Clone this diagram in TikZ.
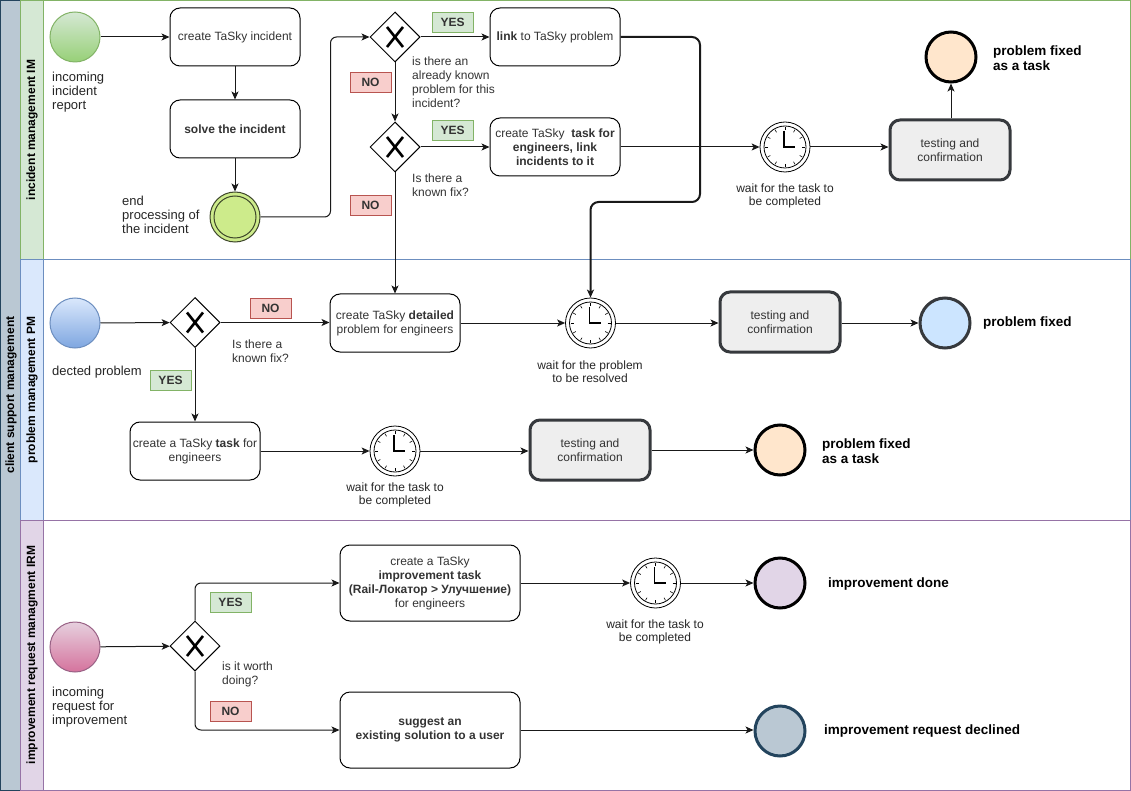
\documentclass[tikz,border=0pt]{standalone}
\usepackage{fontspec}
\setmainfont{Liberation Sans}
\usetikzlibrary{shapes.geometric,arrows.meta,calc}
\definecolor{poolfill}{HTML}{BAC8D3}
\definecolor{poolline}{HTML}{23445D}
\definecolor{gfill}{HTML}{D5E8D4}
\definecolor{gline}{HTML}{82B366}
\definecolor{gdark}{HTML}{97D077}
\definecolor{bfill}{HTML}{DAE8FC}
\definecolor{bline}{HTML}{6C8EBF}
\definecolor{bdark}{HTML}{7EA6E0}
\definecolor{pfill}{HTML}{E1D5E7}
\definecolor{pline}{HTML}{9673A6}
\definecolor{pinklight}{HTML}{E6D0DE}
\definecolor{pinkdark}{HTML}{D5739D}
\definecolor{pinkline}{HTML}{996185}
\definecolor{rfill}{HTML}{F8CECC}
\definecolor{rline}{HTML}{B85450}
\definecolor{orfill}{HTML}{FFE6CC}
\definecolor{ltblue}{HTML}{CCE5FF}
\definecolor{dkline}{HTML}{36393D}
\definecolor{limefill}{HTML}{CDEB8B}
\definecolor{greyfill}{HTML}{EEEEEE}
\definecolor{txtgray}{HTML}{333333}
\newcommand{\clockdeco}[1]{%
  \draw[black, line width=0.8pt] (#1.center) circle[radius=21pt];
  \foreach \a in {0,30,...,330} \draw[black, line width=0.6pt] ($(#1.center)+(\a:17)$) -- ($(#1.center)+(\a:20)$);
  \draw[black, line width=1.1pt] ($(#1.center)+(-1,-16)$) -- ($(#1.center)+(-1,0)$) -- ($(#1.center)+(10,0)$);
}
\newcommand{\gwx}[1]{%
  \draw[black, line width=2.6pt] ($(#1.center)+(-8,-10)$) -- ($(#1.center)+(8,10)$) ($(#1.center)+(8,-10)$) -- ($(#1.center)+(-8,10)$);
}
\begin{document}
\begin{tikzpicture}[x=1pt,y=-1pt,
  conn/.style={draw=black!90, line width=1pt, -{Stealth[length=8pt,width=7pt,inset=2pt]}},
  taskbox/.style={draw=black, line width=1pt, rounded corners=10pt, fill=white, minimum width=130pt, minimum height=58pt, align=center, inner sep=2pt, text=txtgray, font=\fontsize{12}{14}\selectfont},
  testbox/.style={draw=dkline, line width=3pt, rounded corners=10pt, fill=greyfill, minimum width=120pt, minimum height=60pt, align=center, text=txtgray, font=\fontsize{12}{14}\selectfont},
  gateway/.style={diamond, draw=black, line width=1pt, fill=white, minimum width=50pt, minimum height=50pt, inner sep=0pt},
  ev/.style={circle, minimum size=50pt, inner sep=0pt},
  endev/.style={circle, minimum size=50pt, inner sep=0pt, line width=3pt},
  timer/.style={circle, draw=black, line width=0.8pt, fill=white, minimum size=50pt, inner sep=0pt},
  yesbox/.style={draw=gline, fill=gfill, minimum width=41pt, minimum height=20pt, inner sep=0pt, font=\bfseries\fontsize{12}{14}\selectfont, text=txtgray},
  nobox/.style={draw=rline, fill=rfill, minimum width=41pt, minimum height=20pt, inner sep=0pt, font=\bfseries\fontsize{12}{14}\selectfont, text=txtgray},
  lbl/.style={inner sep=0pt, align=left, anchor=west, text=black!85, font=\fontsize{13}{14}\selectfont},
  qlbl/.style={inner sep=0pt, align=left, anchor=west, text=txtgray, font=\fontsize{12}{14}\selectfont},
  wlbl/.style={inner sep=0pt, align=center, text=black!85, font=\fontsize{12}{13.5}\selectfont},
  blbl/.style={inner sep=0pt, align=left, anchor=west, text=black, font=\bfseries\fontsize{13.5}{15.5}\selectfont},
  lanetitle/.style={rotate=90, inner sep=0pt, font=\bfseries\fontsize{12}{14}\selectfont}
]
\useasboundingbox (0,0) rectangle (1131,791);
% pool and lanes
\fill[white] (0,0) rectangle (1131,791);
\draw[draw=poolline, fill=poolfill, line width=1pt] (0.5,0.5) rectangle (20,790);
\draw[draw=gline, fill=gfill, line width=1pt] (20,0.5) rectangle (43,260);
\draw[draw=gline, line width=1pt] (20,0.5) rectangle (1130,260);
\draw[draw=bline, fill=bfill, line width=1pt] (20,260) rectangle (43,520);
\draw[draw=bline, line width=1pt] (20,260) rectangle (1130,520);
\draw[draw=pline, fill=pfill, line width=1pt] (20,520) rectangle (43,790);
\draw[draw=pline, line width=1pt] (20,520) rectangle (1130,790);
\node[lanetitle] (tpool) at (11,395) {client support management};
\node[lanetitle] (tim) at (32,130) {incident management IM};
\node[lanetitle] (tpm) at (32,390) {problem management PM};
\node[lanetitle] (tirm) at (32,655) {improvement request managment IRM};

% ---------- lane 1: incident management
\node[ev, draw=gline, line width=1pt, top color=gfill, bottom color=gdark] (s1) at (75,37) {};
\node[lbl] (s1l) at (52,92) {incoming\\incident\\report};
\node[taskbox] (cti) at (235,37) {create TaSky incident};
\node[taskbox] (sol) at (235,129) {\textbf{solve the incident}};
\node[circle, draw=black!70!limefill, line width=1pt, fill=limefill, minimum size=50pt, inner sep=0pt] (e1) at (235,217) {};
\draw[black!70!limefill, line width=1pt] (e1.center) circle[radius=21pt];
\node[lbl] (e1l) at (122,215) {end\\processing of\\the incident};
\node[gateway] (g1) at (395,37) {};
\gwx{g1}
\node[yesbox] (y1) at (452.5,22.5) {YES};
\node[nobox] (n1) at (370.5,82) {NO};
\node[qlbl] (q1) at (412,82) {is there an\\already known\\problem for this\\incident?};
\node[taskbox] (lnk) at (555,37) {\textbf{link} to TaSky problem};
\node[gateway] (g2) at (395,147) {};
\gwx{g2}
\node[yesbox] (y2) at (452.5,130.5) {YES};
\node[nobox] (n2) at (370.5,205) {NO};
\node[qlbl] (q2) at (412,185) {Is there a\\known fix?};
\node[taskbox] (ctt) at (555,147) {create TaSky\ \ \textbf{task for}\\\textbf{engineers, link}\\\textbf{incidents to it}};
\node[timer] (t1) at (785,147) {};
\clockdeco{t1}
\node[wlbl] (t1l) at (785,196) {wait for the task to\\be completed};
\node[testbox] (ts1) at (950,150) {testing and\\confirmation};
\node[endev, draw=black, fill=orfill] (f1) at (951,57) {};
\node[blbl] (f1l) at (993,58) {problem fixed\\as a task};

% ---------- lane 2: problem management
\node[ev, draw=bline, line width=1pt, top color=bfill, bottom color=bdark] (s2) at (75,323) {};
\node[lbl] (s2l) at (52,372) {dected problem};
\node[gateway] (g3) at (195,322.5) {};
\gwx{g3}
\node[nobox] (n3) at (270.5,308) {NO};
\node[qlbl] (q3) at (232,351) {Is there a\\known fix?};
\node[yesbox] (y3) at (170.5,380) {YES};
\node[taskbox] (det) at (395,323) {create TaSky \textbf{detailed}\\problem for engineers};
\node[timer] (t2) at (590.5,323) {};
\clockdeco{t2}
\node[wlbl] (t2l) at (590,371.5) {wait for the problem\\to be resolved};
\node[testbox] (ts2) at (780,322) {testing and\\confirmation};
\node[endev, draw=dkline, fill=ltblue] (f2) at (945,323) {};
\node[blbl] (f2l) at (983,323) {problem fixed};
\node[taskbox] (ctk) at (195,451) {create a TaSky \textbf{task} for\\engineers};
\node[timer] (t3) at (395,451) {};
\clockdeco{t3}
\node[wlbl] (t3l) at (395,495) {wait for the task to\\be completed};
\node[testbox] (ts3) at (590,450) {testing and\\confirmation};
\node[endev, draw=black, fill=orfill] (f3) at (780,450) {};
\node[blbl] (f3l) at (822,451) {problem fixed\\as a task};

% ---------- lane 3: improvement request management
\node[ev, draw=pinkline, line width=1pt, top color=pinklight, bottom color=pinkdark] (s3) at (75,647) {};
\node[lbl] (s3l) at (52,707) {incoming\\request for\\improvement};
\node[gateway] (g4) at (195,646) {};
\gwx{g4}
\node[yesbox] (y4) at (230.5,602.5) {YES};
\node[nobox] (n4) at (230.5,711) {NO};
\node[qlbl] (q4) at (222,674) {is it worth\\doing?};
\node[taskbox, minimum width=180pt, minimum height=76pt] (imp) at (430,583) {create a TaSky\\\textbf{improvement task}\\\textbf{(Rail-Локатор > Улучшение)}\\for engineers};
\node[taskbox, minimum width=180pt, minimum height=76pt] (sug) at (430,730) {\textbf{suggest an}\\\textbf{existing solution to a user}};
\node[timer] (t4) at (655.5,583) {};
\clockdeco{t4}
\node[wlbl] (t4l) at (655,632) {wait for the task to\\be completed};
\node[endev, draw=black, fill=pfill] (f4) at (780,583) {};
\node[blbl] (f4l) at (828,584) {improvement done};
\node[endev, draw=poolline, fill=poolfill] (f5) at (780,731) {};
\node[blbl] (f5l) at (824,731) {improvement request declined};

% ---------- connectors
\draw[conn] (s1) -- (cti);
\draw[conn] (cti) -- (sol);
\draw[conn] (sol) -- (e1);
\draw[conn, rounded corners=6pt] (e1.east) -- ++(70,0) |- (g1.west);
\draw[conn] (g1.east) -- (lnk.west);
\draw[conn] (g1.south) -- (g2.north);
\draw[conn] (g2.east) -- (ctt.west);
\draw[conn] (g2.south) -- (det.north);
\coordinate (kink) at (700,202);
\draw[conn, line width=2pt, rounded corners=8pt] (lnk.east) -| (kink) -| (t2.north);
\draw[conn] (ctt.east) -- (t1.west);
\draw[conn] (t1.east) -- (t1.east -| ts1.west);
\draw[conn] (ts1.north -| f1.south) -- (f1.south);
\draw[conn] (s2) -- (g3);
\draw[conn] (g3.east) -- (det.west |- g3.east);
\draw[conn] (g3.south) -- (ctk.north);
\draw[conn] (det.east) -- (t2.west);
\draw[conn] (t2.east) -- (t2.east -| ts2.west);
\draw[conn] (ts2.east |- f2.west) -- (f2.west);
\draw[conn] (ctk.east) -- (t3.west);
\draw[conn] (t3.east) -- (t3.east -| ts3.west);
\draw[conn] (ts3.east) -- (f3.west);
\draw[conn] (s3) -- (g4);
\draw[conn, rounded corners=6pt] (g4.north) |- (imp.west);
\draw[conn, rounded corners=6pt] (g4.south) |- (sug.west);
\draw[conn] (imp.east) -- (t4.west);
\draw[conn] (t4.east) -- (f4.west);
\draw[conn] (sug.east) -- (f5.west |- sug.east);
\end{tikzpicture}
\end{document}
